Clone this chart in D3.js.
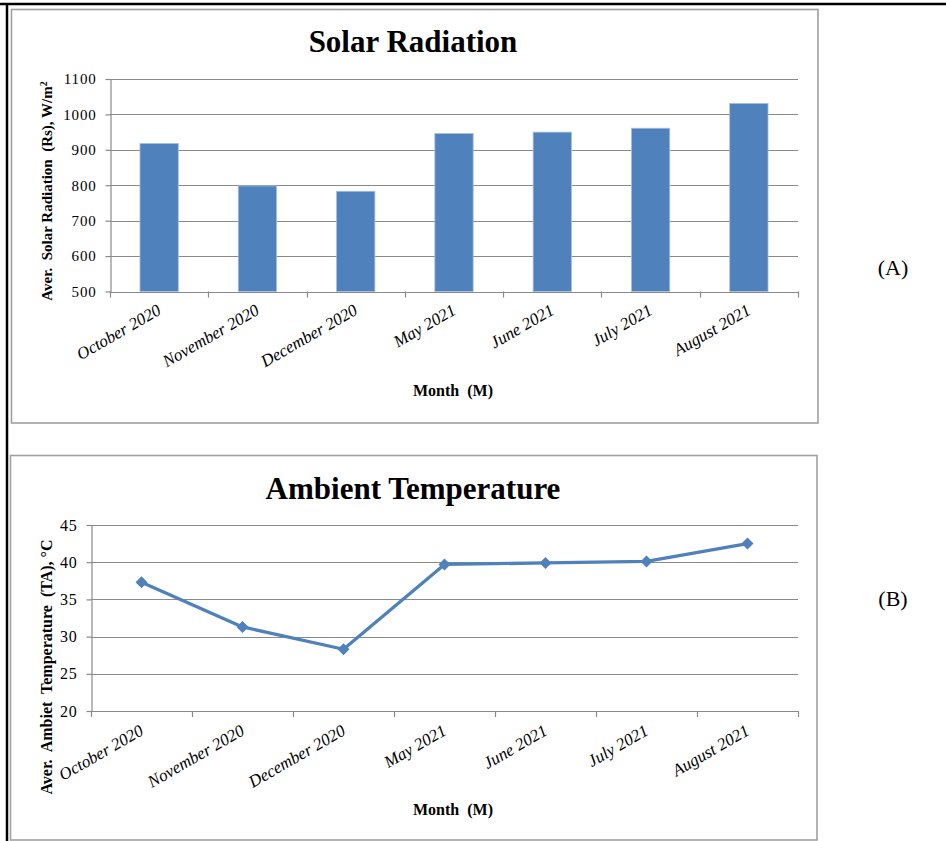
<!DOCTYPE html>
<html>
<head>
<meta charset="utf-8">
<script src="https://cdn.jsdelivr.net/npm/d3@7"></script>
<style>
  html, body { margin: 0; padding: 0; background: #fff; }
  svg { display: block; }
  text { font-family: "Liberation Serif", "Times New Roman", serif; fill: #000; }
</style>
</head>
<body>
<svg id="chart" width="946" height="841"></svg>
<script>
// ---- data ----
const months = ["October 2020", "November 2020", "December 2020", "May 2021", "June 2021", "July 2021", "August 2021"];
const solarRadiation = [918, 798, 783, 946, 950, 961, 1031];
const ambientTemp = [37.3, 31.3, 28.3, 39.7, 39.9, 40.1, 42.5];
const solarTicks = [500, 600, 700, 800, 900, 1000, 1100];
const tempTicks = [20, 25, 30, 35, 40, 45];

const svg = d3.select("#chart");
const blue = "#4F81BD";
const gridCol = "#8a8a8a";

// outer document frame lines
svg.append("line").attr("x1", 0).attr("x2", 946).attr("y1", 4).attr("y2", 4)
  .attr("stroke", "#000").attr("stroke-width", 2.5);
svg.append("line").attr("x1", 7).attr("x2", 7).attr("y1", 3).attr("y2", 841)
  .attr("stroke", "#000").attr("stroke-width", 2.5);

// chart boxes
svg.append("rect").attr("x", 11.5).attr("y", 9.5).attr("width", 806.5).attr("height", 413.5)
  .attr("fill", "#fff").attr("stroke", "#a0a0a0").attr("stroke-width", 1.6);
svg.append("rect").attr("x", 10.5).attr("y", 455.5).attr("width", 806.5).attr("height", 384.5)
  .attr("fill", "#fff").attr("stroke", "#a0a0a0").attr("stroke-width", 1.6);

function drawFrame(cfg) {
  const g = svg.append("g");
  const x = d3.scaleBand().domain(months).range([cfg.x0, cfg.x1]).paddingInner(0).paddingOuter(0);
  const y = d3.scaleLinear().domain(cfg.domain).range([cfg.yBottom, cfg.yTop]);

  // gridlines
  g.append("g").selectAll("line").data(cfg.ticks).join("line")
    .attr("x1", cfg.x0).attr("x2", cfg.x1)
    .attr("y1", d => Math.round(y(d)) + 0.5).attr("y2", d => Math.round(y(d)) + 0.5)
    .attr("stroke", gridCol).attr("stroke-width", 1.2);

  // y axis
  const yAxis = d3.axisLeft(y).tickValues(cfg.ticks).tickFormat(d3.format("d"))
    .tickSize(5).tickPadding(9).tickSizeOuter(0);
  const ya = g.append("g").attr("transform", `translate(${cfg.x0 + 0.5},0)`).call(yAxis);
  ya.attr("font-family", null);
  ya.select(".domain").attr("stroke", gridCol).attr("stroke-width", 1.2);
  ya.selectAll(".tick line").attr("stroke", gridCol).attr("stroke-width", 1.2);
  ya.selectAll(".tick text").attr("font-family", "Liberation Serif, serif")
    .attr("font-size", cfg.yFont).attr("letter-spacing", 0.8).attr("fill", "#000");

  // x axis with ticks at band boundaries
  const bounds = months.map(m => x(m)).concat([cfg.x1]);
  g.append("line").attr("x1", cfg.x0).attr("x2", cfg.x1)
    .attr("y1", Math.round(cfg.yBottom) + 0.5).attr("y2", Math.round(cfg.yBottom) + 0.5)
    .attr("stroke", gridCol).attr("stroke-width", 1.2);
  g.append("g").selectAll("line").data(bounds).join("line")
    .attr("x1", d => Math.round(d) + 0.5).attr("x2", d => Math.round(d) + 0.5)
    .attr("y1", cfg.yBottom).attr("y2", cfg.yBottom + 6)
    .attr("stroke", gridCol).attr("stroke-width", 1.2);

  // x tick labels (rotated, italic)
  g.append("g").selectAll("text").data(months).join("text")
    .attr("transform", d => `translate(${x(d) + x.bandwidth() / 2 + cfg.lblDx},${cfg.yBottom + cfg.lblDy}) rotate(${cfg.angle})`)
    .attr("text-anchor", "end")
    .attr("font-style", "italic")
    .attr("font-size", cfg.xFont)
    .text(d => d);

  return { g, x, y };
}

// ---------- Chart A ----------
const A = drawFrame({
  x0: 110, x1: 798, yTop: 79, yBottom: 291.5, domain: [500, 1100], ticks: solarTicks,
  yFont: 15, xFont: 17, lblDx: 3, lblDy: 22, angle: -30
});
const bw = A.x.bandwidth() * 0.39;
A.g.append("g").selectAll("rect").data(months).join("rect")
  .attr("x", d => A.x(d) + (A.x.bandwidth() - bw) / 2)
  .attr("width", bw)
  .attr("y", (d, i) => A.y(solarRadiation[i]))
  .attr("height", (d, i) => A.y(500) - A.y(solarRadiation[i]))
  .attr("fill", blue)
  .attr("stroke", "#a7c0de").attr("stroke-width", 0.8);

svg.append("text").attr("x", 413).attr("y", 52).attr("text-anchor", "middle")
  .attr("font-weight", "bold").attr("font-size", 31).text("Solar Radiation");

const ylabA = svg.append("text").attr("transform", "translate(52,191) rotate(-90)")
  .attr("text-anchor", "middle").attr("font-weight", "bold").attr("font-size", 15)
  .attr("xml:space", "preserve");
ylabA.append("tspan").text("Aver.  Solar Radiation  (Rs), W/m");
ylabA.append("tspan").attr("baseline-shift", "super").attr("font-size", 10).text("2");

svg.append("text").attr("x", 453).attr("y", 396).attr("text-anchor", "middle")
  .attr("font-weight", "bold").attr("font-size", 16).attr("xml:space", "preserve").text("Month  (M)");

svg.append("text").attr("x", 893).attr("y", 275).attr("text-anchor", "middle")
  .attr("font-size", 22).text("(A)");

// ---------- Chart B ----------
const B = drawFrame({
  x0: 91, x1: 798, yTop: 525, yBottom: 711, domain: [20, 45], ticks: tempTicks,
  yFont: 16, xFont: 17, lblDx: 3, lblDy: 23, angle: -30
});
const line = d3.line()
  .x((d, i) => B.x(months[i]) + B.x.bandwidth() / 2)
  .y(d => B.y(d));
B.g.append("path").datum(ambientTemp).attr("d", line)
  .attr("fill", "none").attr("stroke", blue).attr("stroke-width", 3.3).attr("stroke-linejoin", "round");
B.g.append("g").selectAll("path").data(ambientTemp).join("path")
  .attr("transform", (d, i) => `translate(${B.x(months[i]) + B.x.bandwidth() / 2},${B.y(d)}) rotate(45)`)
  .attr("d", d3.symbol(d3.symbolSquare, 72)())
  .attr("fill", blue);

svg.append("text").attr("x", 413).attr("y", 499).attr("text-anchor", "middle")
  .attr("font-weight", "bold").attr("font-size", 31).text("Ambient Temperature");

svg.append("text").attr("transform", "translate(52,667) rotate(-90)")
  .attr("text-anchor", "middle").attr("font-weight", "bold").attr("font-size", 16)
  .attr("xml:space", "preserve").text("Aver.  Ambiet  Temperature  (TA), °C");

svg.append("text").attr("x", 453).attr("y", 815).attr("text-anchor", "middle")
  .attr("font-weight", "bold").attr("font-size", 16).attr("xml:space", "preserve").text("Month  (M)");

svg.append("text").attr("x", 893).attr("y", 606).attr("text-anchor", "middle")
  .attr("font-size", 22).text("(B)");
</script>
</body>
</html>
